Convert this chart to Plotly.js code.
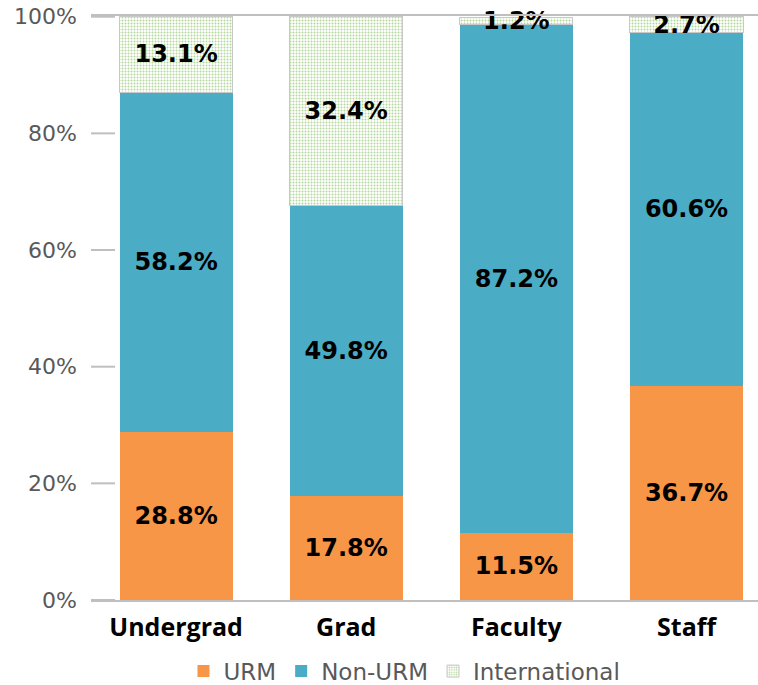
<!DOCTYPE html>
<html><head><meta charset="utf-8">
<script src="https://cdn.plot.ly/plotly-3.0.1.min.js"></script>
<style>html,body{margin:0;padding:0;background:#fff}</style>
</head><body>
<div id="chart" style="width:758px;height:685px"></div>
<script>
var categories = ["Undergrad", "Grad", "Faculty", "Staff"];
var urm = [28.8, 17.8, 11.5, 36.7];
var nonUrm = [58.2, 49.8, 87.2, 60.6];
var international = [13.1, 32.4, 1.2, 2.7];
var yTicks = [0, 20, 40, 60, 80, 100];

var labelFont = {family: "DejaVu Sans", size: 24, color: "#000000", weight: "bold"};
function pct(arr){ return arr.map(function(v){ return v.toFixed(1) + "%"; }); }
function bar(name, vals, marker){
  return {
    type: "bar", name: name, x: categories, y: vals,
    text: pct(vals), textposition: "inside", insidetextanchor: "middle",
    textangle: 0, constraintext: "none", textfont: labelFont,
    hoverinfo: "skip", marker: marker, cliponaxis: false
  };
}
var data = [
  bar("URM", urm, {color: "#F79646", line: {width: 0}}),
  bar("Non-URM", nonUrm, {color: "#4BACC6", line: {width: 0}}),
  bar("International", international, {
    color: "#ffffff",
    line: {color: "#c8c8c8", width: 1},
    pattern: {shape: ".", fgcolor: "#b3d99a", bgcolor: "#ffffff", size: 3, solidity: 0.35}
  })
];
var yRange = [0, 100.12];
// short tick marks at the left edge, one per y tick value
var tickShapes = yTicks.map(function(v){
  return {type: "line", xref: "paper", x0: 0, x1: 0.036, yref: "y", y0: v, y1: v,
          line: {color: "#bfbfbf", width: 2}, layer: "above"};
});
var layout = {
  width: 758, height: 685,
  margin: {l: 91, r: 0, t: 16, b: 85, autoexpand: false},
  paper_bgcolor: "#ffffff", plot_bgcolor: "#ffffff",
  barmode: "stack", bargap: 0.335,
  showlegend: true,
  legend: {
    orientation: "h", xref: "paper", yref: "paper",
    x: 0.47, xanchor: "center", y: -0.085, yanchor: "top",
    font: {family: "DejaVu Sans", size: 23, color: "#595959"},
    traceorder: "normal", itemclick: false
  },
  shapes: tickShapes,
  xaxis: {
    type: "category", range: [-0.5, 3.42],
    showline: true, mirror: true, linecolor: "#bfbfbf", linewidth: 2,
    ticks: "", showgrid: false, zeroline: false,
    tickfont: {family: "Open Sans", size: 25, color: "#000000", weight: "bold"},
    ticklabelstandoff: 4
  },
  yaxis: {
    range: yRange, tickvals: yTicks, ticktext: yTicks.map(function(v){return v + "%";}),
    showgrid: false, zeroline: false, showline: false,
    ticks: "",
    tickfont: {family: "DejaVu Sans", size: 22, color: "#595959"},
    ticklabelstandoff: 13
  }
};
Plotly.newPlot("chart", data, layout, {staticPlot: true});
</script>
</body></html>
